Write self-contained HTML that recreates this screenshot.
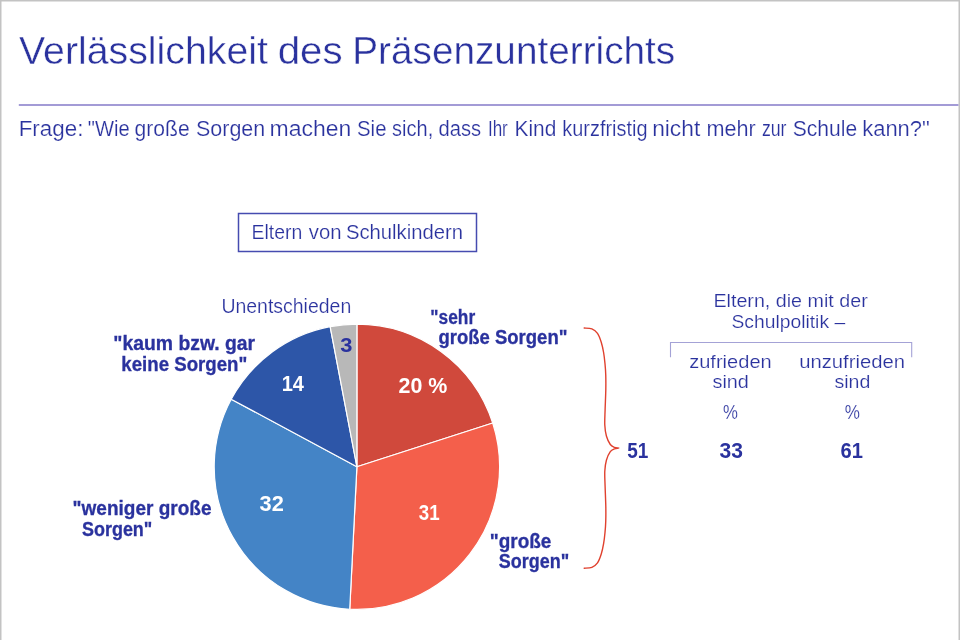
<!DOCTYPE html>
<html lang="de"><head><meta charset="utf-8"><title>Verlässlichkeit des Präsenzunterrichts</title>
<style>
html,body{margin:0;padding:0;background:#fff;}
body{width:960px;height:640px;overflow:hidden;}
svg{display:block;font-family:"Liberation Sans",sans-serif;}
</style></head><body>
<svg width="960" height="640" viewBox="0 0 960 640">
<rect x="0" y="0" width="960" height="640" fill="#fff"/>
<path d="M0.75 640V0.75H959.25V640" fill="none" stroke="#c3c3c3" stroke-width="1.5"/>
<line x1="18.8" y1="105" x2="958.5" y2="105" stroke="#a39bd6" stroke-width="1.9"/>
<rect x="238.5" y="213.5" width="238" height="38" fill="none" stroke="#464bb0" stroke-width="1.5"/>
<path d="M356.9 466.75L356.90 324.05A142.7 142.7 0 0 1 492.73 422.99Z" fill="#d0493c" stroke="#fff" stroke-width="1.2" stroke-linejoin="round"/>
<path d="M356.9 466.75L492.73 422.99A142.7 142.7 0 0 1 349.73 609.27Z" fill="#f45f4b" stroke="#fff" stroke-width="1.2" stroke-linejoin="round"/>
<path d="M356.9 466.75L349.73 609.27A142.7 142.7 0 0 1 231.21 399.19Z" fill="#4484c6" stroke="#fff" stroke-width="1.2" stroke-linejoin="round"/>
<path d="M356.9 466.75L231.21 399.19A142.7 142.7 0 0 1 330.16 326.58Z" fill="#2d56a8" stroke="#fff" stroke-width="1.2" stroke-linejoin="round"/>
<path d="M356.9 466.75L330.16 326.58A142.7 142.7 0 0 1 356.90 324.05Z" fill="#b8b8b8" stroke="#fff" stroke-width="1.2" stroke-linejoin="round"/>
<path d="M584.2 328.0C585.48 328.15 589.68 328.02 591.9 328.9C594.12 329.78 595.94 331.08 597.5 333.3C599.06 335.52 600.23 339.00 601.25 342.2C602.27 345.40 602.98 348.91 603.6 352.5C604.23 356.09 604.64 360.00 605.0 363.75C605.36 367.50 605.62 370.62 605.75 375C605.88 379.38 605.91 384.17 605.8 390C605.69 395.83 605.27 404.17 605.1 410C604.93 415.83 604.58 420.67 604.8 425C605.02 429.33 605.48 432.75 606.4 436C607.32 439.25 608.95 442.62 610.3 444.5C611.65 446.38 613.07 446.70 614.5 447.3C615.93 447.90 618.90 447.83 618.9 448.1C618.90 448.37 615.93 448.30 614.5 448.9C613.07 449.50 611.65 449.82 610.3 451.7C608.95 453.58 607.32 456.95 606.4 460.2C605.48 463.45 605.02 466.87 604.8 471.2C604.58 475.53 604.93 480.37 605.1 486.2C605.27 492.03 605.69 500.37 605.8 506.2C605.91 512.03 605.88 516.83 605.75 521.2C605.62 525.58 605.36 528.70 605.0 532.45C604.64 536.20 604.23 540.11 603.6 543.7C602.98 547.29 602.27 550.80 601.25 554.0C600.23 557.20 599.06 560.68 597.5 562.9C595.94 565.12 594.12 566.42 591.9 567.3C589.68 568.18 585.48 568.05 584.2 568.2" fill="none" stroke="#e0412e" stroke-width="1.4" stroke-linejoin="round" stroke-linecap="round"/>
<path d="M670.5 357.3V342.5H911.7V357.3" fill="none" stroke="#a4a2d6" stroke-width="1.1"/>
<text y="64.0" font-size="39.0" stroke="#fff" stroke-width="0.4" fill="#2a329e"><tspan x="19.05" textLength="248.81" lengthAdjust="spacingAndGlyphs">Verlässlichkeit</tspan> <tspan x="277.69" textLength="65.00" lengthAdjust="spacingAndGlyphs">des</tspan> <tspan x="352.27" textLength="322.91" lengthAdjust="spacingAndGlyphs">Präsenzunterrichts</tspan></text>
<text y="135.7" font-size="21.3" stroke="#fff" stroke-width="0.2" fill="#2a329e"><tspan x="18.66" textLength="64.76" lengthAdjust="spacingAndGlyphs">Frage:</tspan> <tspan x="87.80" textLength="41.89" lengthAdjust="spacingAndGlyphs">&quot;Wie</tspan> <tspan x="134.51" textLength="55.12" lengthAdjust="spacingAndGlyphs">große</tspan> <tspan x="195.99" textLength="69.21" lengthAdjust="spacingAndGlyphs">Sorgen</tspan> <tspan x="269.63" textLength="81.75" lengthAdjust="spacingAndGlyphs">machen</tspan> <tspan x="357.04" textLength="29.44" lengthAdjust="spacingAndGlyphs">Sie</tspan> <tspan x="392.10" textLength="41.09" lengthAdjust="spacingAndGlyphs">sich,</tspan> <tspan x="438.55" textLength="42.66" lengthAdjust="spacingAndGlyphs">dass</tspan> <tspan x="487.90" textLength="19.89" lengthAdjust="spacingAndGlyphs">Ihr</tspan> <tspan x="514.53" textLength="41.82" lengthAdjust="spacingAndGlyphs">Kind</tspan> <tspan x="562.35" textLength="85.19" lengthAdjust="spacingAndGlyphs">kurzfristig</tspan> <tspan x="652.15" textLength="48.12" lengthAdjust="spacingAndGlyphs">nicht</tspan> <tspan x="706.48" textLength="49.31" lengthAdjust="spacingAndGlyphs">mehr</tspan> <tspan x="761.88" textLength="24.66" lengthAdjust="spacingAndGlyphs">zur</tspan> <tspan x="792.76" textLength="64.35" lengthAdjust="spacingAndGlyphs">Schule</tspan> <tspan x="862.20" textLength="67.67" lengthAdjust="spacingAndGlyphs">kann?&quot;</tspan></text>
<text y="239.1" font-size="20.8" stroke="#fff" stroke-width="0.2" fill="#2a329e"><tspan x="251.46" textLength="50.78" lengthAdjust="spacingAndGlyphs">Eltern</tspan> <tspan x="308.75" textLength="32.75" lengthAdjust="spacingAndGlyphs">von</tspan> <tspan x="345.93" textLength="117.18" lengthAdjust="spacingAndGlyphs">Schulkindern</tspan></text>
<text x="221.40" y="313.3" font-size="19.5" stroke="#fff" stroke-width="0.2" textLength="129.84" lengthAdjust="spacingAndGlyphs" fill="#2a329e">Unentschieden</text>
<text x="430.29" y="323.5" font-size="19.5" font-weight="700" stroke="#2a329e" stroke-width="0.3" textLength="44.88" lengthAdjust="spacingAndGlyphs" fill="#2a329e">&quot;sehr</text>
<text x="438.49" y="344.1" font-size="19.5" font-weight="700" stroke="#2a329e" stroke-width="0.3" textLength="128.96" lengthAdjust="spacingAndGlyphs" fill="#2a329e">große Sorgen&quot;</text>
<text x="113.36" y="350.4" font-size="19.5" font-weight="700" stroke="#2a329e" stroke-width="0.3" textLength="141.73" lengthAdjust="spacingAndGlyphs" fill="#2a329e">&quot;kaum bzw. gar</text>
<text x="121.30" y="370.8" font-size="19.5" font-weight="700" stroke="#2a329e" stroke-width="0.3" textLength="126.05" lengthAdjust="spacingAndGlyphs" fill="#2a329e">keine Sorgen&quot;</text>
<text x="72.53" y="515.3" font-size="19.5" font-weight="700" stroke="#2a329e" stroke-width="0.3" textLength="138.98" lengthAdjust="spacingAndGlyphs" fill="#2a329e">&quot;weniger große</text>
<text x="82.04" y="535.9" font-size="19.5" font-weight="700" stroke="#2a329e" stroke-width="0.3" textLength="70.29" lengthAdjust="spacingAndGlyphs" fill="#2a329e">Sorgen&quot;</text>
<text x="489.79" y="547.8" font-size="19.5" font-weight="700" stroke="#2a329e" stroke-width="0.3" textLength="61.62" lengthAdjust="spacingAndGlyphs" fill="#2a329e">&quot;große</text>
<text x="498.79" y="568.4" font-size="19.5" font-weight="700" stroke="#2a329e" stroke-width="0.3" textLength="70.39" lengthAdjust="spacingAndGlyphs" fill="#2a329e">Sorgen&quot;</text>
<text x="398.56" y="393.1" font-size="21.8" font-weight="700" textLength="48.81" lengthAdjust="spacingAndGlyphs" fill="#ffffff">20 %</text>
<text x="418.87" y="519.9" font-size="21.8" font-weight="700" textLength="20.81" lengthAdjust="spacingAndGlyphs" fill="#ffffff">31</text>
<text x="259.60" y="510.5" font-size="21.8" font-weight="700" textLength="24.20" lengthAdjust="spacingAndGlyphs" fill="#ffffff">32</text>
<text x="281.75" y="390.6" font-size="21.8" font-weight="700" textLength="22.25" lengthAdjust="spacingAndGlyphs" fill="#ffffff">14</text>
<text x="340.37" y="352.0" font-size="20.6" font-weight="700" textLength="12.20" lengthAdjust="spacingAndGlyphs" fill="#2a329e">3</text>
<text x="627.15" y="457.5" font-size="21.8" font-weight="700" textLength="21.09" lengthAdjust="spacingAndGlyphs" fill="#2a329e">51</text>
<text x="719.52" y="457.5" font-size="21.8" font-weight="700" textLength="23.41" lengthAdjust="spacingAndGlyphs" fill="#2a329e">33</text>
<text x="840.56" y="457.5" font-size="21.8" font-weight="700" textLength="22.40" lengthAdjust="spacingAndGlyphs" fill="#2a329e">61</text>
<text x="713.42" y="306.6" font-size="18.7" stroke="#fff" stroke-width="0.2" textLength="154.29" lengthAdjust="spacingAndGlyphs" fill="#2a329e">Eltern, die mit der</text>
<text x="731.47" y="328.2" font-size="18.7" stroke="#fff" stroke-width="0.2" textLength="113.64" lengthAdjust="spacingAndGlyphs" fill="#2a329e">Schulpolitik –</text>
<text x="689.20" y="367.8" font-size="18.7" stroke="#fff" stroke-width="0.2" textLength="82.53" lengthAdjust="spacingAndGlyphs" fill="#2a329e">zufrieden</text>
<text x="712.47" y="388.4" font-size="18.7" stroke="#fff" stroke-width="0.2" textLength="36.41" lengthAdjust="spacingAndGlyphs" fill="#2a329e">sind</text>
<text x="799.15" y="367.8" font-size="18.7" stroke="#fff" stroke-width="0.2" textLength="105.88" lengthAdjust="spacingAndGlyphs" fill="#2a329e">unzufrieden</text>
<text x="834.48" y="388.4" font-size="18.7" stroke="#fff" stroke-width="0.2" textLength="35.88" lengthAdjust="spacingAndGlyphs" fill="#2a329e">sind</text>
<text x="723.11" y="418.6" font-size="19.5" stroke="#fff" stroke-width="0.2" textLength="14.90" lengthAdjust="spacingAndGlyphs" fill="#2a329e">%</text>
<text x="844.64" y="418.6" font-size="19.5" stroke="#fff" stroke-width="0.2" textLength="15.18" lengthAdjust="spacingAndGlyphs" fill="#2a329e">%</text>
</svg>
</body></html>
